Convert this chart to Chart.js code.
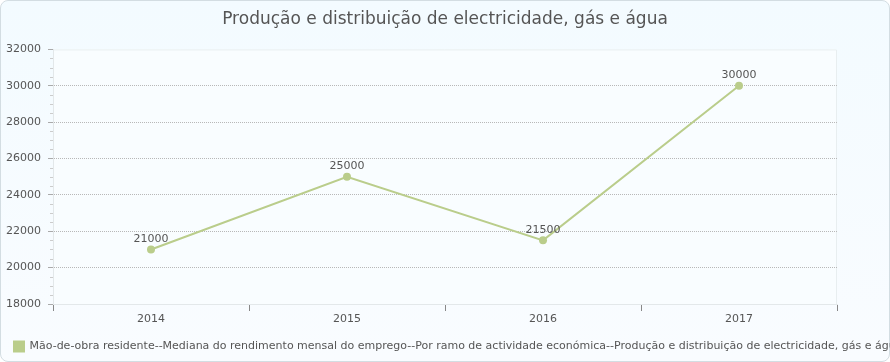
<!DOCTYPE html>
<html>
<head>
<meta charset="utf-8">
<script src="https://cdn.jsdelivr.net/npm/chart.js@4"></script>
<style>
  body { margin: 0; }
  #box {
    position: absolute; left: 0; top: 0; width: 890px; height: 362px;
    box-sizing: border-box; border: 1px solid #d3dde2; border-radius: 8px;
    background: linear-gradient(#f3fbff, #f9fcff);
  }
  #wrap { position: absolute; left: 0; top: 0; width: 890px; height: 362px; }
</style>
</head>
<body>
<div id="box"></div>
<div id="wrap"><canvas id="chart"></canvas></div>
<script>
const years = ["2014", "2015", "2016", "2017"];
const medianIncome = [21000, 25000, 21500, 30000];
const seriesName = "Mão-de-obra residente--Mediana do rendimento mensal do emprego--Por ramo de actividade económica--Produção e distribuição de electricidade, gás e água";
const chartTitle = "Produção e distribuição de electricidade, gás e água";

const lineColor = "#bacd8b";
const textColor = "#555555";

// plot area fill + light frame, minor ticks on the y axis
const plotFrame = {
  id: "plotFrame",
  afterLayout(chart) {
    // legend sits a little in from the left edge
    chart.legend.left = 10;
  },
  beforeDraw(chart) {
    const { ctx, chartArea: a } = chart;
    ctx.save();
    ctx.fillStyle = "#f9fdff";
    ctx.fillRect(a.left, a.top, a.right - a.left, a.bottom - a.top);
    ctx.strokeStyle = "#e8eef0";
    ctx.lineWidth = 1;
    ctx.beginPath();
    ctx.moveTo(a.left, a.top + 0.5);
    ctx.lineTo(a.right - 0.5, a.top + 0.5);
    ctx.lineTo(a.right - 0.5, a.bottom);
    ctx.stroke();
    // minor ticks
    const y = chart.scales.y;
    ctx.strokeStyle = "#cccccc";
    ctx.beginPath();
    for (let v = y.min; v < y.max; v += 500) {
      if (v % 2000 === 0) continue;
      const py = Math.round(y.getPixelForValue(v)) + 0.5;
      ctx.moveTo(a.left - 3, py);
      ctx.lineTo(a.left, py);
    }
    ctx.stroke();
    ctx.restore();
  }
};

// value labels above points
const valueLabels = {
  id: "valueLabels",
  afterDatasetsDraw(chart) {
    const { ctx } = chart;
    const meta = chart.getDatasetMeta(0);
    ctx.save();
    ctx.font = "11px 'DejaVu Sans'";
    ctx.fillStyle = textColor;
    ctx.textAlign = "center";
    ctx.textBaseline = "bottom";
    meta.data.forEach((pt, i) => {
      ctx.fillText(String(medianIncome[i]), pt.x, pt.y - 5);
    });
    ctx.restore();
  }
};

new Chart(document.getElementById("chart"), {
  type: "line",
  data: {
    labels: years,
    datasets: [{
      label: seriesName,
      data: medianIncome,
      borderColor: lineColor,
      backgroundColor: lineColor,
      borderWidth: 2,
      pointRadius: 4,
      pointHoverRadius: 4,
      pointBorderWidth: 0,
      tension: 0
    }]
  },
  options: {
    responsive: true,
    maintainAspectRatio: false,
    animation: false,
    layout: { padding: { left: 0, right: 0, top: 0, bottom: 0 } },
    plugins: {
      title: {
        display: true,
        text: chartTitle,
        color: textColor,
        font: { family: "DejaVu Sans", size: 17, weight: "normal" },
        padding: { top: 9, bottom: 20 }
      },
      legend: {
        position: "bottom",
        align: "start",
        labels: {
          color: textColor,
          font: { family: "DejaVu Sans", size: 11 },
          boxWidth: 10,
          boxHeight: 10,
          padding: 4
        }
      },
      tooltip: { enabled: false }
    },
    scales: {
      x: {
        offset: true,
        grid: {
          offset: true,
          drawOnChartArea: false,
          tickLength: 7,
          tickColor: "#888888"
        },
        border: { color: "#e3e8ea" },
        ticks: {
          color: textColor,
          font: { family: "DejaVu Sans", size: 11 },
          padding: 2
        },
        afterFit(scale) { scale.height = 33; }
      },
      y: {
        min: 18000,
        max: 32000,
        grid: {
          color: ctx => (ctx.tick && ctx.tick.value === 32000) ? "rgba(0,0,0,0)" : "#b8b8b8",
          tickColor: "#aaaaaa",
          tickLength: 5,
          drawTicks: true
        },
        border: { color: "#e3e8ea", dash: [1, 1] },
        ticks: {
          stepSize: 2000,
          color: textColor,
          font: { family: "DejaVu Sans", size: 11 },
          padding: 7,
          callback: v => String(v)
        },
        afterFit(scale) { scale.width = 53; }
      },
      // empty axis on the right only to reserve the margin
      yRight: {
        position: "right",
        display: true,
        grid: { display: false, drawTicks: false },
        border: { display: false },
        ticks: { display: false },
        afterFit(scale) { scale.width = 53; }
      }
    }
  },
  plugins: [plotFrame, valueLabels]
});
</script>
</body>
</html>
